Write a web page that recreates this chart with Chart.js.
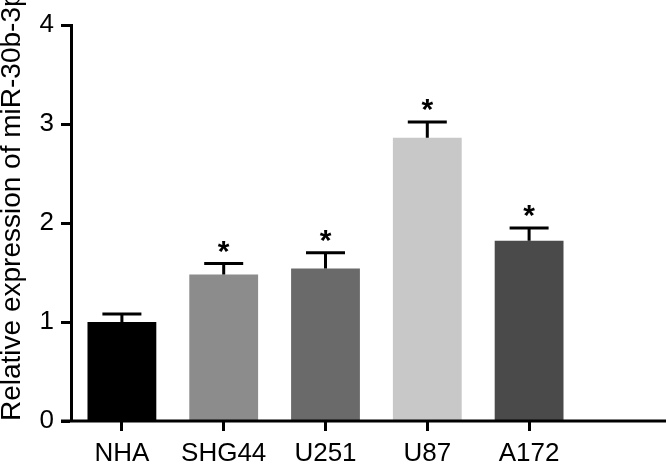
<!DOCTYPE html>
<html>
<head>
  <meta charset="utf-8" />
  <style>
    html, body { margin: 0; padding: 0; background: #fff; }
    #wrap { width: 666px; height: 466px; }
  </style>
</head>
<body>
  <div id="wrap"><canvas id="barChart"></canvas></div>

  <script src="https://cdn.jsdelivr.net/npm/chart.js"></script>
  <script>
    // data
    const cellLines = ["NHA", "SHG44", "U251", "U87", "A172"];
    const meanExpr = [1.00, 1.48, 1.54, 2.86, 1.82];
    const errUpper = [0.08, 0.11, 0.16, 0.16, 0.13];
    const significant = [false, true, true, true, true];
    const barColors = ["#000000", "#8c8c8c", "#6a6a6a", "#c8c8c8", "#4a4a4a"];
    const yTicks = [0, 1, 2, 3, 4];

    const FONT = "'Liberation Sans', Arial, Helvetica, sans-serif";

    // error bars, asterisks and the long x axis line
    const extras = {
      id: "extras",
      afterDatasetsDraw(chart) {
        const ctx = chart.ctx;
        const meta = chart.getDatasetMeta(0);
        const y = chart.scales.y;
        const area = chart.chartArea;
        ctx.save();
        ctx.strokeStyle = "#000";
        ctx.fillStyle = "#000";
        ctx.lineWidth = 3;

        // x axis line, runs past the last bar
        ctx.beginPath();
        ctx.moveTo(area.left - 10, area.bottom);
        ctx.lineTo(chart.width, area.bottom);
        ctx.stroke();

        meta.data.forEach((bar, i) => {
          const top = y.getPixelForValue(meanExpr[i]);
          const errTop = y.getPixelForValue(meanExpr[i] + errUpper[i]);
          ctx.beginPath();
          ctx.moveTo(bar.x, top);
          ctx.lineTo(bar.x, errTop);
          ctx.moveTo(bar.x - 19.5, errTop);
          ctx.lineTo(bar.x + 19.5, errTop);
          ctx.stroke();

          if (significant[i]) {
            ctx.font = "bold 30px " + FONT;
            ctx.textAlign = "center";
            ctx.textBaseline = "alphabetic";
            ctx.fillText("*", bar.x, errTop - 3);
          }
        });
        ctx.restore();
      }
    };

    new Chart(document.getElementById("barChart"), {
      type: "bar",
      data: {
        labels: cellLines,
        datasets: [{
          data: meanExpr,
          backgroundColor: barColors,
          borderWidth: 0,
          categoryPercentage: 1,
          barPercentage: 0.676
        }]
      },
      options: {
        responsive: true,
        maintainAspectRatio: false,
        animation: false,
        events: [],
        layout: { padding: { top: 25, right: 86, left: 0, bottom: 0 } },
        plugins: {
          legend: { display: false },
          tooltip: { enabled: false }
        },
        scales: {
          x: {
            type: "category",
            offset: true,
            border: { display: false },
            grid: {
              drawOnChartArea: false,
              drawTicks: true,
              tickLength: 10,
              tickWidth: 3,
              color: "#000",
              offset: false
            },
            ticks: {
              color: "#000",
              font: { family: FONT, size: 26 },
              padding: 7,
              maxRotation: 0
            },
            afterFit(scale) { scale.height = 45; }
          },
          y: {
            min: 0,
            max: 4,
            border: { display: true, width: 3, color: "#000" },
            grid: {
              drawOnChartArea: false,
              drawTicks: true,
              tickLength: 10,
              tickWidth: 3,
              color: "#000"
            },
            afterBuildTicks(scale) {
              scale.ticks = yTicks.map(v => ({ value: v }));
            },
            ticks: {
              color: "#000",
              font: { family: FONT, size: 26 },
              padding: 7
            },
            title: {
              display: true,
              align: "start",
              text: "Relative expression of miR-30b-3p",
              color: "#000",
              font: { family: FONT, size: 28, lineHeight: 0.9 },
              padding: 0
            },
            afterFit(scale) { scale.width = 71; }
          }
        }
      },
      plugins: [extras]
    });
  </script>
</body>
</html>
